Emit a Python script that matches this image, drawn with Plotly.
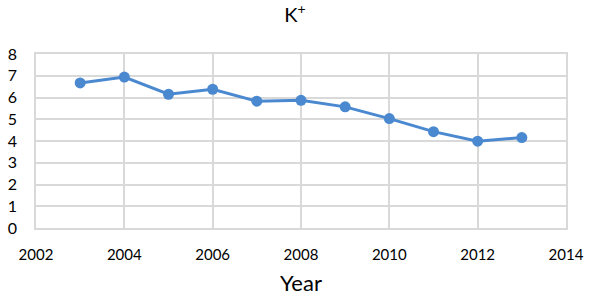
import plotly.graph_objects as go

years = [2003, 2004, 2005, 2006, 2007, 2008, 2009, 2010, 2011, 2012, 2013]
k_values = [6.67, 6.94, 6.15, 6.38, 5.83, 5.87, 5.57, 5.03, 4.43, 3.99, 4.16]

x_ticks = [2002, 2004, 2006, 2008, 2010, 2012, 2014]
y_ticks = [0, 1, 2, 3, 4, 5, 6, 7, 8]

line_color = "#4A89D0"
grid_color = "#D9D9D9"
font_family = "Lato, Open Sans, sans-serif"

fig = go.Figure(
    go.Scatter(
        x=years,
        y=k_values,
        mode="lines+markers",
        line=dict(color=line_color, width=3),
        marker=dict(color=line_color, size=11),
        showlegend=False,
    )
)

fig.update_layout(
    width=590,
    height=300,
    margin=dict(l=36, r=24, t=54, b=72, autoexpand=False),
    paper_bgcolor="white",
    plot_bgcolor="white",
    font=dict(family=font_family, color="#000000", size=15),
    title=dict(
        text="K<sup>+</sup>",
        x=0.5,
        xanchor="center",
        y=0.95,
        yanchor="middle",
        font=dict(size=20, family=font_family, color="#000000"),
    ),
)

fig.update_xaxes(
    range=[2002, 2014],
    tickvals=x_ticks,
    ticktext=[str(v) for v in x_ticks],
    showgrid=True,
    gridcolor=grid_color,
    gridwidth=1.5,
    showline=True,
    linecolor=grid_color,
    linewidth=1.5,
    mirror=True,
    zeroline=False,
    ticks="",
    automargin=False,
    tickfont=dict(size=15),
    ticklabelstandoff=12,
    title=dict(text="Year", font=dict(size=22), standoff=14),
)

fig.update_yaxes(
    range=[0, 8],
    tickvals=y_ticks,
    showgrid=True,
    gridcolor=grid_color,
    gridwidth=1.5,
    showline=True,
    linecolor=grid_color,
    linewidth=1.5,
    mirror=True,
    zeroline=False,
    ticks="",
    automargin=False,
    tickfont=dict(size=16),
    ticklabelstandoff=14,
)

fig.write_html(
    "out.html",
    config={"displayModeBar": False},
    post_script="document.body.style.margin='0';document.body.style.padding='0';",
)
